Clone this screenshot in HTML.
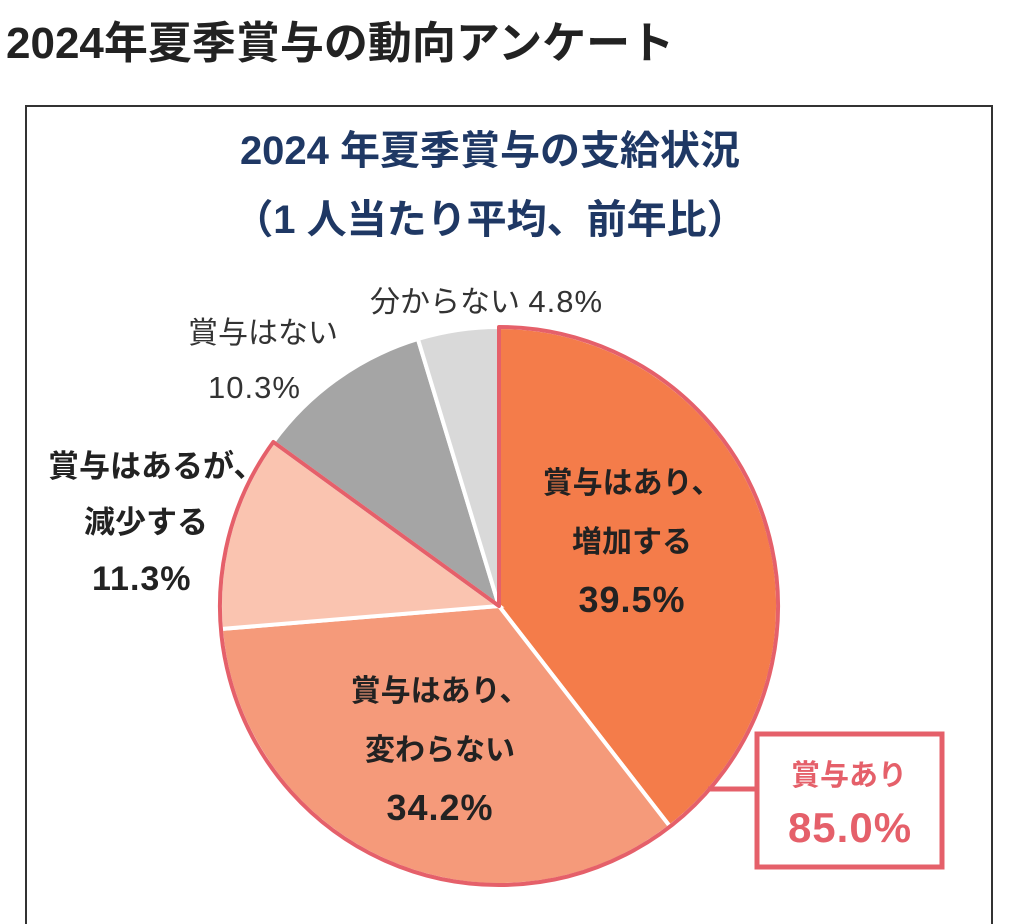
<!DOCTYPE html>
<html><head><meta charset="utf-8"><style>
body{margin:0;width:1024px;height:924px;background:#fff;overflow:hidden;font-family:"Liberation Sans","Noto Sans CJK JP",sans-serif;}
</style></head><body>
<svg width="1024" height="924" viewBox="0 0 1024 924" xmlns="http://www.w3.org/2000/svg" style="position:absolute;left:0;top:0">
<text x="6" y="58" font-size="44" font-weight="bold" fill="#222" font-family="Liberation Sans, Noto Sans CJK JP, sans-serif">2024年夏季賞与の動向アンケート</text>
<rect x="26" y="106" width="966" height="840" fill="#fff" stroke="#333" stroke-width="2"/>
<g font-family="Liberation Sans, Noto Sans CJK JP, sans-serif">
<text x="490" y="164" font-size="40" font-weight="bold" fill="#1F3864" text-anchor="middle">2024 年夏季賞与の支給状況</text>
<text x="490" y="233" font-size="40" font-weight="bold" fill="#1F3864" text-anchor="middle">（1 人当たり平均、前年比）</text>
<g stroke="#fff" stroke-width="4">
<path d="M499,606 L499,327 A279,279 0 0 1 670,826.5 Z" fill="#F47C4A"/>
<path d="M499,606 L670,826.5 A279,279 0 0 1 221,629 Z" fill="#F59A7A"/>
<path d="M499,606 L221,629 A279,279 0 0 1 273.3,442 Z" fill="#FAC4B0"/>
<path d="M499,606 L273.3,442 A279,279 0 0 1 417.9,339 Z" fill="#A5A5A5"/>
<path d="M499,606 L417.9,339 A279,279 0 0 1 499,327 Z" fill="#D9D9D9"/>
</g>
<path d="M499,606 L499,327 A279,279 0 1 1 273.3,442 Z" fill="none" stroke="#E5606A" stroke-width="4" stroke-linejoin="round"/>
<line x1="708" y1="789" x2="756" y2="789" stroke="#E5606A" stroke-width="5"/>
<rect x="757" y="734" width="185" height="133" fill="#fff" stroke="#E5606A" stroke-width="5"/>
<text x="849" y="785" font-size="29" font-weight="bold" fill="#E5606A" text-anchor="middle">賞与あり</text>
<text x="850" y="842" font-size="42" font-weight="bold" fill="#E5606A" text-anchor="middle" letter-spacing="1">85.0%</text>
<g font-size="30" font-weight="bold" fill="#222" text-anchor="middle">
<text x="632" y="493">賞与はあり、</text>
<text x="632" y="552">増加する</text>
<text x="632" y="612" font-size="36" letter-spacing="1">39.5%</text>
<text x="440" y="701">賞与はあり、</text>
<text x="440" y="760">変わらない</text>
<text x="440" y="820" font-size="36" letter-spacing="1">34.2%</text>
</g>
<g font-size="31" font-weight="bold" fill="#222">
<text x="48" y="477">賞与はあるが、</text>
<text x="84" y="533">減少する</text>
<text x="92" y="590" font-size="34" letter-spacing="1">11.3%</text>
</g>
<g font-size="30" fill="#333">
<text x="188" y="343">賞与はない</text>
<text x="208" y="398" font-size="31" letter-spacing="1">10.3%</text>
<text x="370" y="312">分からない <tspan font-size="31" letter-spacing="1">4.8%</tspan></text>
</g>
</g>
</svg>
</body></html>
